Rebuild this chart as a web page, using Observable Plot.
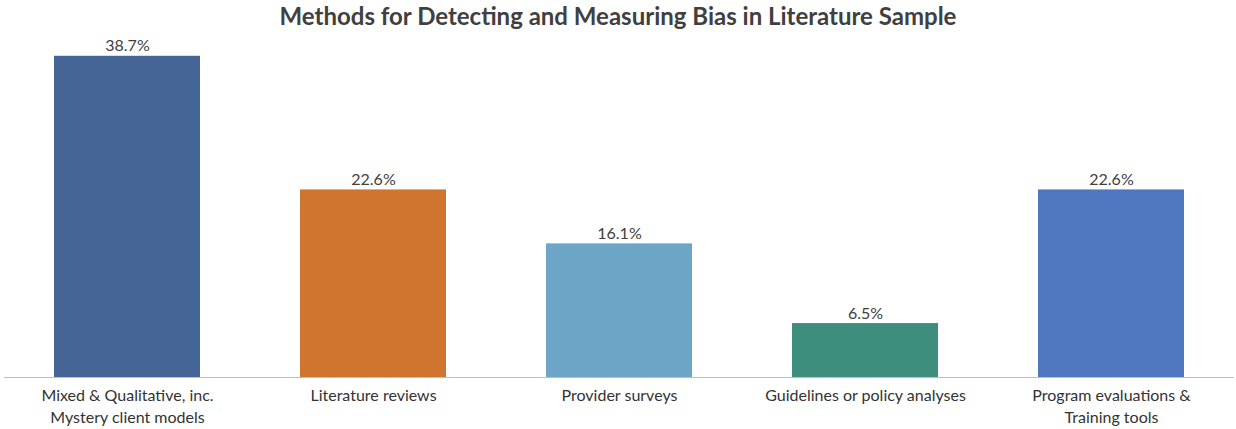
<!DOCTYPE html>
<html>
<head>
<meta charset="utf-8">
<script src="https://cdn.jsdelivr.net/npm/d3@7"></script>
<script src="https://cdn.jsdelivr.net/npm/@observablehq/plot@0.6"></script>
<style>
  html, body { margin: 0; padding: 0; background: #fff; }
  #title { height: 34px; line-height: 32px; text-align: center; font-family: Lato, "Open Sans", sans-serif; font-weight: bold; font-size: 24px; color: #404040; }
  svg { display: block; }
</style>
</head>
<body>
<div id="title">Methods for Detecting and Measuring Bias in Literature Sample</div>
<div id="chart"></div>
<script>
const categories = [
  "Mixed & Qualitative, inc.\nMystery client models",
  "Literature reviews",
  "Provider surveys",
  "Guidelines or policy analyses",
  "Program evaluations &\nTraining tools"
];
const values = [38.7, 22.6, 16.1, 6.5, 22.6];
const colors = ["#466597", "#CF7530", "#6CA5C5", "#3D8E7C", "#4E77BF"];

const data = categories.map((c, i) => ({category: c, value: values[i], color: colors[i]}));

const chart = Plot.plot({
  width: 1236,
  height: 395,
  marginTop: 11,
  marginBottom: 52,
  marginLeft: 4,
  marginRight: 2,
  style: {fontFamily: "Lato, 'Open Sans', sans-serif", color: "#333"},
  x: {domain: categories, paddingInner: 0.407, paddingOuter: 0.2035, label: null},
  y: {domain: [0, 40], axis: null},
  marks: [
    Plot.barY(data, {x: "category", y: "value", fill: "color"}),
    Plot.ruleY([0], {stroke: "#bfbfbf", strokeWidth: 1.2}),
    Plot.axisX({tickSize: 0, tickPadding: 8, fontSize: 16, lineHeight: 1.38, fill: "#333", label: null}),
    Plot.text(data, {x: "category", y: "value", text: d => d.value.toFixed(1) + "%", dy: -10, fontSize: 16, fill: "#404040"})
  ]
});
document.getElementById("chart").appendChild(chart);
</script>
</body>
</html>
